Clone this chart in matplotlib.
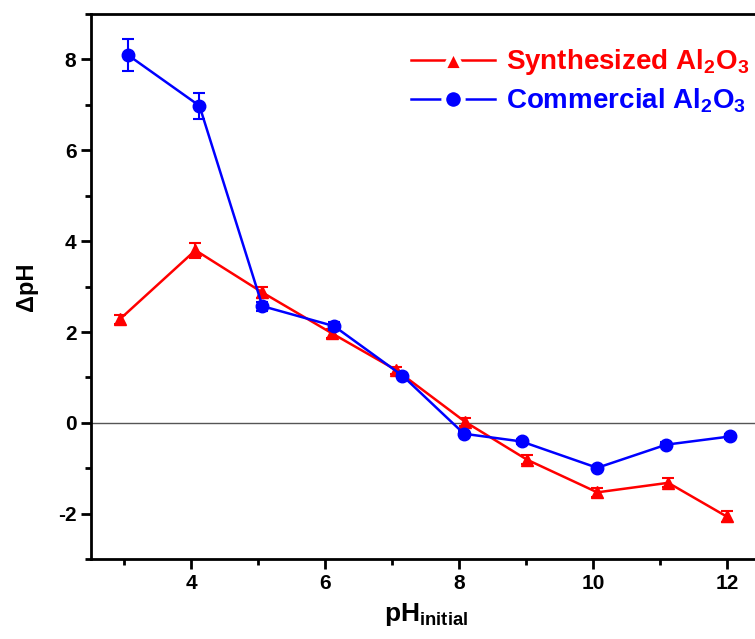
import matplotlib
matplotlib.use('Agg')
import matplotlib.pyplot as plt
from matplotlib.ticker import MultipleLocator
from matplotlib.lines import Line2D

plt.rcParams['font.family'] = ['Liberation Sans', 'DejaVu Sans']
plt.rcParams['font.weight'] = 'bold'
plt.rcParams['axes.labelweight'] = 'bold'
plt.rcParams['axes.unicode_minus'] = False
plt.rcParams['mathtext.fontset'] = 'custom'
plt.rcParams['mathtext.rm'] = 'Liberation Sans:bold'
plt.rcParams['mathtext.it'] = 'Liberation Sans:bold'
plt.rcParams['mathtext.bf'] = 'Liberation Sans:bold'

# data
syn_x = [2.93, 4.06, 5.06, 6.10, 7.06, 8.09, 9.01, 10.06, 11.12, 11.99]
syn_y = [2.28, 3.80, 2.87, 1.97, 1.16, 0.02, -0.81, -1.53, -1.32, -2.06]
syn_err = [0.10, 0.17, 0.12, 0.10, 0.08, 0.08, 0.10, 0.10, 0.10, 0.12]

com_x = [3.06, 4.12, 5.06, 6.13, 7.15, 8.07, 8.93, 10.06, 11.09, 12.04]
com_y = [8.09, 6.98, 2.57, 2.13, 1.04, -0.24, -0.41, -0.99, -0.48, -0.30]
com_err = [0.35, 0.29, 0.10, 0.08, 0.05, 0.05, 0.05, 0.05, 0.05, 0.05]

labels = ['Synthesized Al$_2$O$_3$', 'Commercial Al$_2$O$_3$']
colors = ['red', 'blue']

fig = plt.figure(figsize=(7.55, 6.39), dpi=100)
ax = fig.add_axes([0.1205, 0.125, 0.887, 0.853])

ax.axhline(0, color='#555555', lw=1.0, zorder=1)

ax.errorbar(syn_x, syn_y, yerr=syn_err, color=colors[0], marker='^', ms=9,
            lw=1.8, capsize=4, elinewidth=1.5, capthick=1.5, zorder=3)
ax.errorbar(com_x, com_y, yerr=com_err, color=colors[1], marker='o', ms=9,
            lw=1.8, capsize=4, elinewidth=1.5, capthick=1.5, zorder=4)

ax.set_xlim(2.5, 12.5)
ax.set_ylim(-3, 9)
ax.xaxis.set_major_locator(MultipleLocator(2))
ax.xaxis.set_minor_locator(MultipleLocator(1))
ax.yaxis.set_major_locator(MultipleLocator(2))
ax.yaxis.set_minor_locator(MultipleLocator(1))
ax.tick_params(which='major', direction='out', length=7, width=2, labelsize=15)
ax.tick_params(which='minor', direction='out', length=4, width=2)
for s in ax.spines.values():
    s.set_linewidth(2)

ax.set_xlabel('pH$_{initial}$', fontsize=19, labelpad=6)
ax.set_ylabel('\u0394pH', fontsize=17, labelpad=14)

handles = [Line2D([], [], color=colors[0], marker='^', ms=14, mec='white', mew=3.5, lw=1.8),
           Line2D([], [], color=colors[1], marker='o', ms=14, mec='white', mew=3.5, lw=1.8)]
leg = ax.legend(handles, labels, loc='upper right', bbox_to_anchor=(1.02, 0.985),
                frameon=False, fontsize=20, handlelength=3.0, handletextpad=0.4,
                labelspacing=0.35)
for txt, c in zip(leg.get_texts(), colors):
    txt.set_color(c)

fig.savefig('out.png', dpi=100)
